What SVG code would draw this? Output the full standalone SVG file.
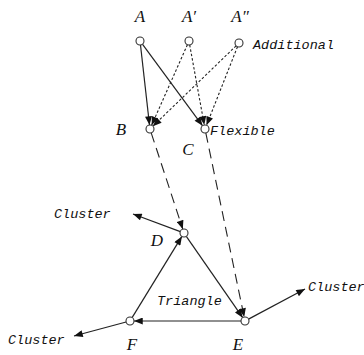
<svg xmlns="http://www.w3.org/2000/svg" width="364" height="355" viewBox="0 0 364 355">
<defs>
<marker id="ah" viewBox="0 0 10 8" refX="10" refY="4" markerWidth="10" markerHeight="7" markerUnits="userSpaceOnUse" orient="auto">
<path d="M0,0 L10,4 L0,8 z" fill="#111"/>
</marker>
<style>
.n{fill:#fff;stroke:#333;stroke-width:1.1}
.s{stroke:#222;stroke-width:1.2;fill:none;marker-end:url(#ah)}
.dot{stroke:#222;stroke-width:1.1;fill:none;stroke-dasharray:2.5,2;marker-end:url(#ah)}
.dash{stroke:#222;stroke-width:1.1;fill:none;stroke-dasharray:10,6;marker-end:url(#ah)}
.L{font-family:"Liberation Serif",serif;font-style:italic;font-size:17px;fill:#111;text-anchor:middle}
.w{font-family:"Liberation Mono",monospace;font-style:italic;font-size:13.5px;fill:#111}
</style>
</defs>
<rect width="364" height="355" fill="#fff"/>
<g id="connectors">
<line class="s" x1="140.5" y1="45" x2="149.5" y2="125"/>
<line class="s" x1="142.4" y1="44.2" x2="202.6" y2="125.8"/>
<line class="dot" x1="187.4" y1="44.7" x2="151.6" y2="125.3"/>
<line class="dot" x1="189.7" y1="44.9" x2="204.3" y2="125.1"/>
<line class="dot" x1="236.1" y1="45.8" x2="152.9" y2="126.2"/>
<line class="dot" x1="237.5" y1="46.7" x2="206.5" y2="125.3"/>
<line class="dash" x1="151.2" y1="132.8" x2="182.8" y2="229.2"/>
<line class="dash" x1="205.8" y1="132.9" x2="244.2" y2="317.1"/>
<line class="s" x1="186.3" y1="236.3" x2="242.7" y2="317.7"/>
<line class="s" x1="241" y1="321" x2="134" y2="321"/>
<line class="s" x1="132.1" y1="317.6" x2="181.9" y2="236.4"/>
<line class="s" x1="180.3" y1="231.6" x2="133" y2="214"/>
<line class="s" x1="248.5" y1="319.1" x2="305" y2="289"/>
<line class="s" x1="126.1" y1="322" x2="74" y2="336"/>
</g>
<g id="A"><circle class="n" cx="140" cy="41" r="4"/><text class="L" x="140" y="22">A</text></g>
<g id="A1"><circle class="n" cx="189" cy="41" r="4"/><text class="L" x="189" y="22">A′</text></g>
<g id="A2"><circle class="n" cx="239" cy="43" r="4"/><text class="L" x="240" y="22">A″</text><text class="w" x="253" y="49">Additional</text></g>
<g id="B"><circle class="n" cx="150" cy="129" r="4"/><text class="L" x="121" y="135">B</text></g>
<g id="C"><circle class="n" cx="205" cy="129" r="4"/><text class="L" x="188" y="155">C</text><text class="w" x="210" y="135">Flexible</text></g>
<g id="D"><circle class="n" cx="184" cy="233" r="4"/><text class="L" x="157" y="246">D</text><text class="w" x="54" y="218">Cluster</text></g>
<g id="E"><circle class="n" cx="245" cy="321" r="4"/><text class="L" x="238" y="350">E</text><text class="w" x="308" y="291">Cluster</text></g>
<g id="F"><circle class="n" cx="130" cy="321" r="4"/><text class="L" x="132" y="350">F</text><text class="w" x="8" y="344">Cluster</text></g>
<g id="tri"><text class="w" x="157" y="305">Triangle</text></g>
</svg>
